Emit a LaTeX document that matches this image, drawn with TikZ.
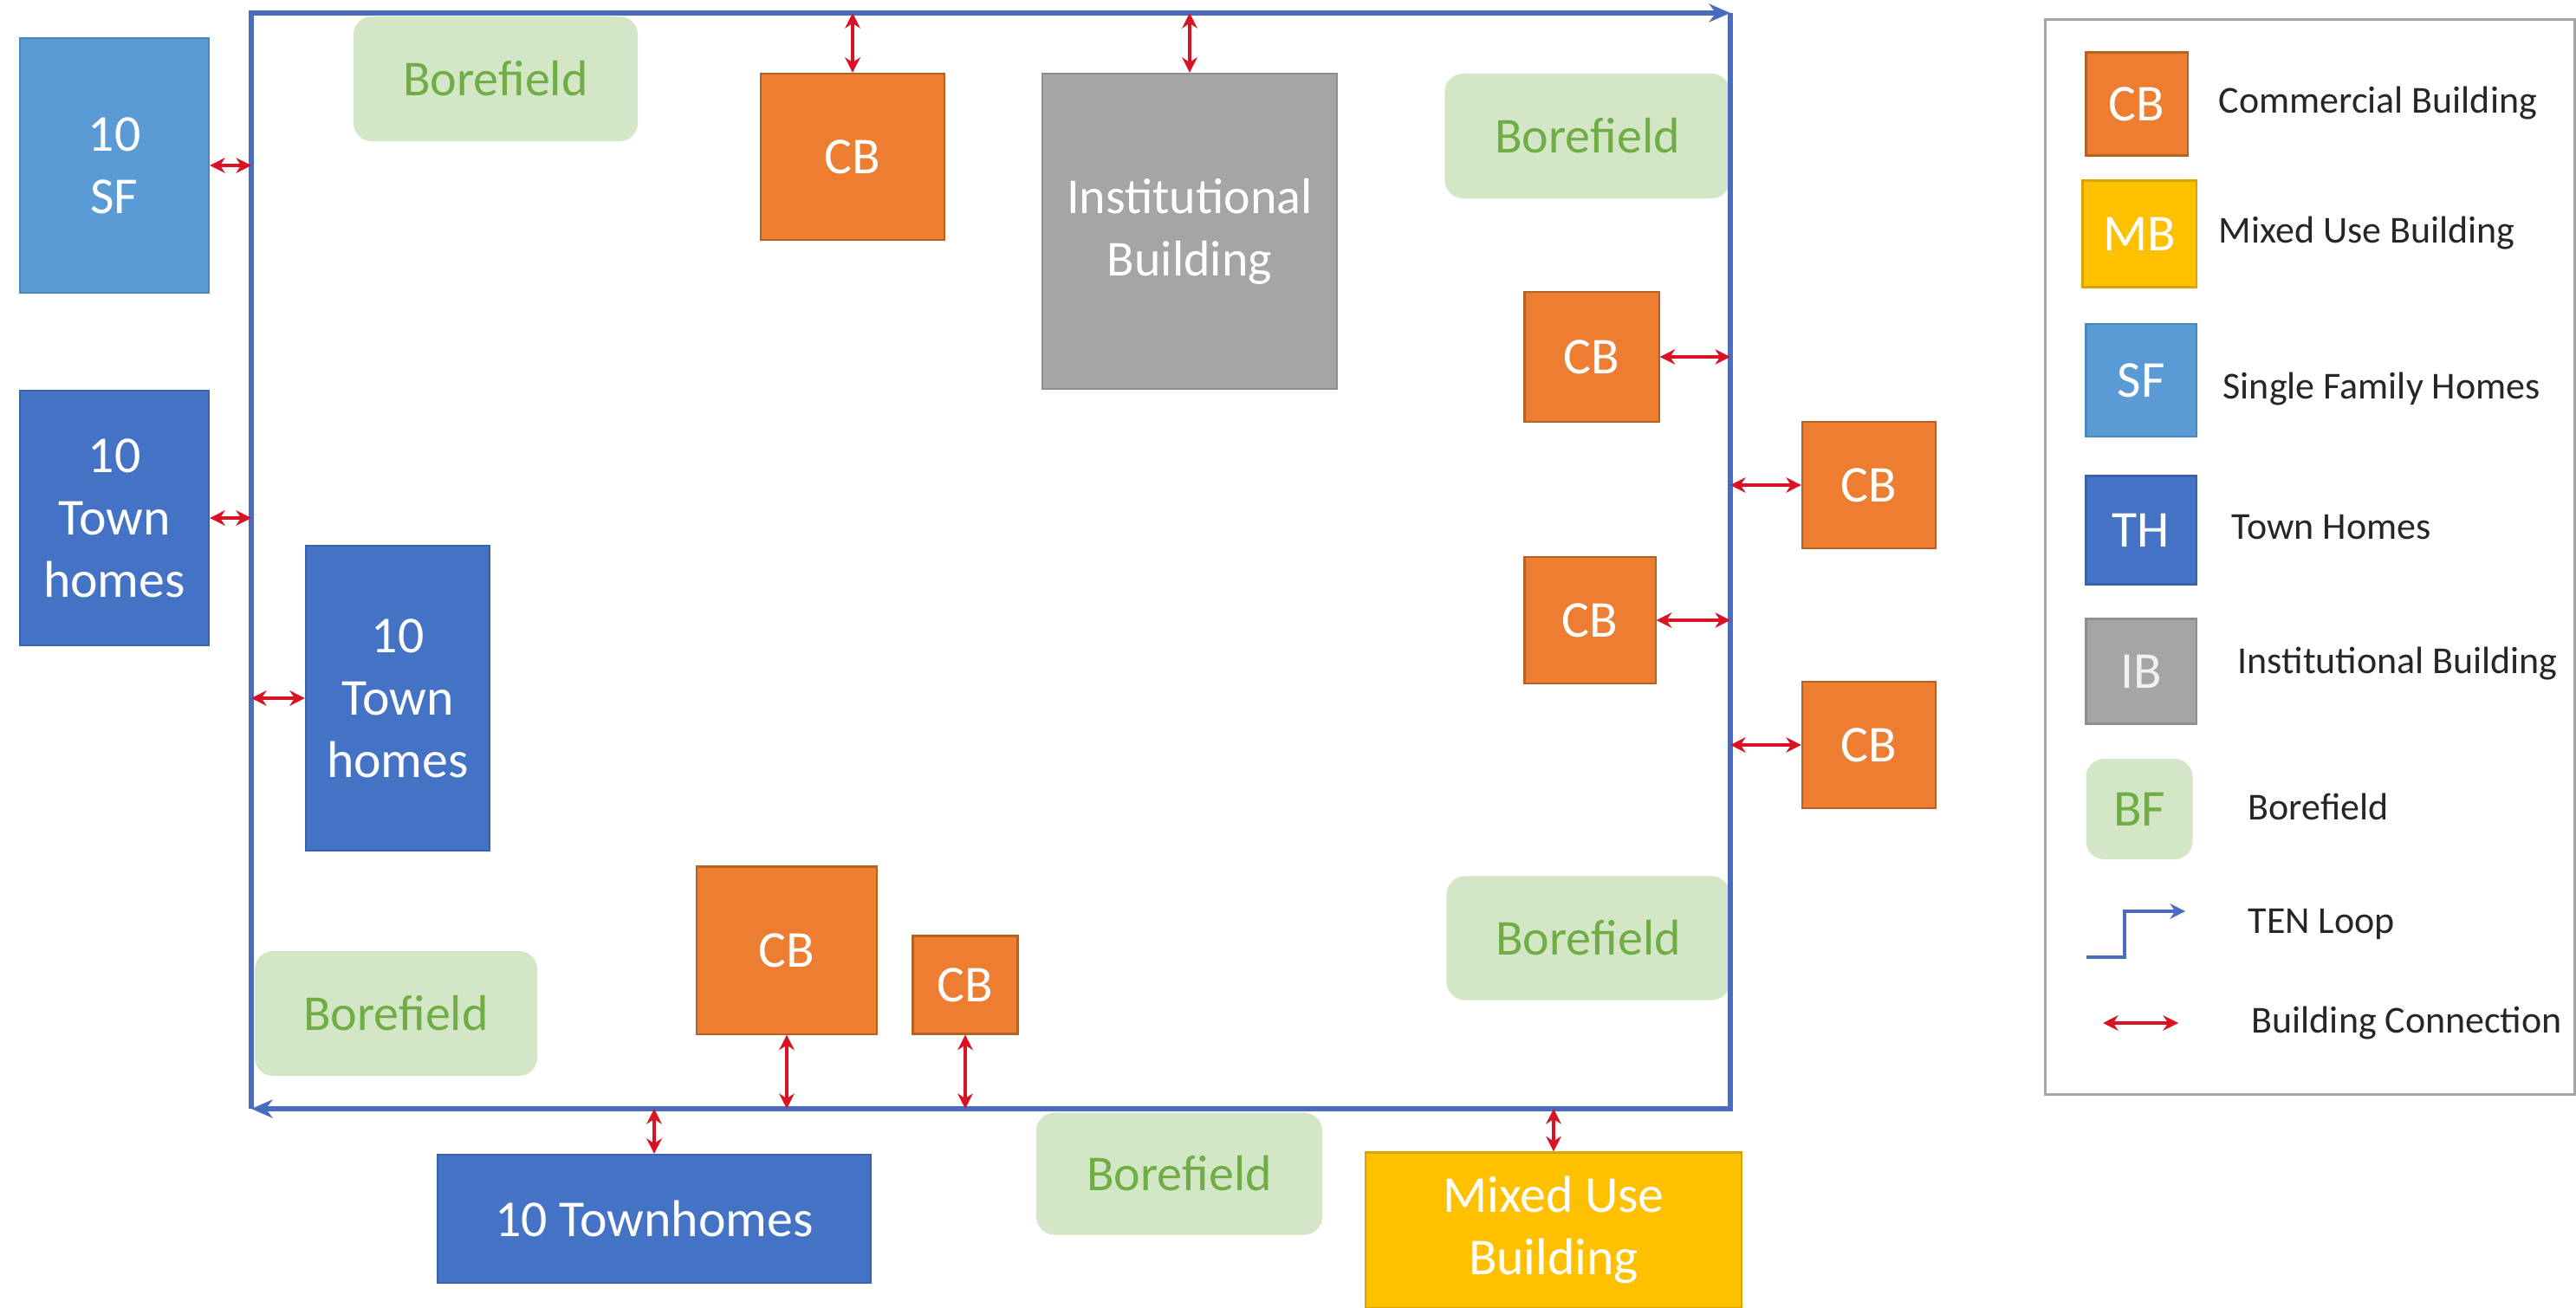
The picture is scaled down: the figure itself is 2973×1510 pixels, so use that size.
\documentclass[tikz,border=0pt]{standalone}
\usepackage{fontspec}
\setmainfont{Carlito}
\usetikzlibrary{arrows.meta}
\definecolor{cbfill}{HTML}{ED7D31}
\definecolor{cbdark}{HTML}{B85F22}
\definecolor{mbfill}{HTML}{FFC000}
\definecolor{mbdark}{HTML}{D9A300}
\definecolor{sffill}{HTML}{5B9BD5}
\definecolor{sfdark}{HTML}{4A86C0}
\definecolor{thfill}{HTML}{4472C4}
\definecolor{thdark}{HTML}{3A62AA}
\definecolor{ibfill}{HTML}{A5A5A5}
\definecolor{ibdark}{HTML}{8E8E8E}
\definecolor{bffill}{HTML}{D3E7C6}
\definecolor{bftext}{HTML}{70AD47}
\definecolor{loopblue}{HTML}{4A6CBE}
\definecolor{conred}{HTML}{D81424}
\definecolor{legtext}{HTML}{262626}
\definecolor{legframe}{HTML}{A6A6A6}
\begin{document}
\begin{tikzpicture}[x=0.01cm,y=-0.01cm,
  bld/.style={rectangle, inner sep=2pt, align=center, text=white, line width=0.6pt,
    font=\fontsize{17}{20.5}\selectfont},
  cbbox/.style={bld, fill=cbfill, draw=cbdark},
  mbbox/.style={bld, fill=mbfill, draw=mbdark},
  sfbox/.style={bld, fill=sffill, draw=sfdark},
  thbox/.style={bld, fill=thfill, draw=thdark},
  ibbox/.style={bld, fill=ibfill, draw=ibdark},
  bfbox/.style={rectangle, rounded corners=6pt, fill=bffill, text=bftext, inner sep=2pt,
    font=\fontsize{16.5}{20}\selectfont},
  conn/.style={draw=conred, line width=1.2pt,
    {Stealth[length=5pt,width=5pt]}-{Stealth[length=5pt,width=5pt]}},
  tenloop/.style={draw=loopblue, line width=1.5pt, line join=miter,
    -{Stealth[length=7pt,width=6pt]}},
  leg/.style={anchor=west, text=legtext, inner sep=0pt, font=\fontsize{12.5}{15}\selectfont}
]
\useasboundingbox (0,0) rectangle (2973,1510);
\fill[white] (0,0) rectangle (2973,1510);

% loop corners
\coordinate (LTL) at (290,15);
\coordinate (LTR) at (1997,15);
\coordinate (LBR) at (1997,1280);
\coordinate (LBL) at (290,1280);

% boxes
\node[sfbox, minimum width=2.18cm, minimum height=2.94cm] (sf) at (132,191) {10\\SF};
\node[thbox, minimum width=2.18cm, minimum height=2.94cm] (thl) at (132,598) {10\\Town\\homes};
\node[thbox, minimum width=2.12cm, minimum height=3.51cm] (thi) at (459,806) {10\\Town\\homes};
\node[bfbox, minimum width=3.28cm, minimum height=1.44cm] (bf1) at (572,91) {Borefield};
\node[cbbox, minimum width=2.12cm, minimum height=1.92cm] (cb1) at (984,181) {CB};
\node[ibbox, minimum width=3.39cm, minimum height=3.64cm, font=\fontsize{16.5}{20.5}\selectfont] (ib) at (1373,267) {Institutional\\Building};
\node[bfbox, minimum width=3.29cm, minimum height=1.44cm] (bf2) at (1832,157) {Borefield};
\node[cbbox, minimum width=1.55cm, minimum height=1.50cm] (cb2) at (1837,412) {CB};
\node[cbbox, minimum width=1.54cm, minimum height=1.46cm] (cb3) at (2157,560) {CB};
\node[cbbox, minimum width=1.51cm, minimum height=1.46cm] (cb4) at (1835,716) {CB};
\node[cbbox, minimum width=1.54cm, minimum height=1.46cm] (cb5) at (2157,860) {CB};
\node[bfbox, minimum width=3.27cm, minimum height=1.43cm] (bf3) at (1833,1083) {Borefield};
\node[bfbox, minimum width=3.26cm, minimum height=1.44cm] (bf4) at (457,1170) {Borefield};
\node[cbbox, minimum width=2.08cm, minimum height=1.93cm] (cb6) at (908,1097) {CB};
\node[cbbox, minimum width=1.21cm, minimum height=1.13cm] (cb7) at (1114,1137) {CB};
\node[thbox, minimum width=4.99cm, minimum height=1.48cm] (thb) at (755,1407) {10 Townhomes};
\node[bfbox, minimum width=3.30cm, minimum height=1.41cm] (bf5) at (1361,1355) {Borefield};
\node[mbbox, minimum width=4.33cm, minimum height=1.79cm] (mb) at (1793,1420) {Mixed Use\\Building};

% TEN loop
\draw[tenloop] (LBL) -- (LTL) -- (LTR);
\draw[tenloop] (LTR) -- (LBR) -- (LBL);

% building connections
\draw[conn] (sf.east) -- (sf.east -| LTL);
\draw[conn] (thl.east) -- (thl.east -| LTL);
\draw[conn] (thi.west) -- (thi.west -| LTL);
\draw[conn] (cb1.north) -- (cb1.north |- LTL);
\draw[conn] (ib.north) -- (ib.north |- LTL);
\draw[conn] (cb2.east) -- (cb2.east -| LTR);
\draw[conn] (cb3.west) -- (cb3.west -| LTR);
\draw[conn] (cb4.east) -- (cb4.east -| LTR);
\draw[conn] (cb5.west) -- (cb5.west -| LTR);
\draw[conn] (cb6.south) -- (cb6.south |- LBL);
\draw[conn] (cb7.south) -- (cb7.south |- LBL);
\draw[conn] (thb.north) -- (thb.north |- LBL);
\draw[conn] (mb.north) -- (mb.north |- LBL);

% legend
\node[draw=legframe, line width=0.8pt, minimum width=6.10cm, minimum height=12.40cm] (legend) at (2666,643) {};
\node[cbbox, minimum width=1.17cm, minimum height=1.19cm] (lcb) at (2466,120) {CB};
\node[mbbox, minimum width=1.31cm, minimum height=1.23cm] (lmb) at (2469,270) {MB};
\node[sfbox, minimum width=1.27cm, minimum height=1.30cm] (lsf) at (2471,439) {SF};
\node[thbox, minimum width=1.27cm, minimum height=1.25cm] (lth) at (2471,612) {TH};
\node[ibbox, minimum width=1.27cm, minimum height=1.21cm, text=white!85!ibfill] (lib) at (2471,775) {IB};
\node[bfbox, minimum width=1.23cm, minimum height=1.16cm, font=\fontsize{17}{20}\selectfont] (lbf) at (2469,934) {BF};
\coordinate (s1) at (2408,1105);
\coordinate (s2) at (2452,1105);
\coordinate (s3) at (2452,1052);
\coordinate (s4) at (2522,1052);
\draw[tenloop, line width=1.2pt, -{Stealth[length=5pt,width=5pt]}] (s1) -- (s2) -- (s3) -- (s4);
\coordinate (c1) at (2427,1181);
\coordinate (c2) at (2514,1181);
\draw[conn] (c1) -- (c2);

\node[leg] (t1) at (2560,119) {Commercial Building};
\node[leg] (t2) at (2560,269) {Mixed Use Building};
\node[leg] (t3) at (2565,449) {Single Family Homes};
\node[leg] (t4) at (2575,609) {Town Homes};
\node[leg] (t5) at (2582,766) {Institutional Building};
\node[leg] (t6) at (2594,931) {Borefield};
\node[leg] (t7) at (2594,1067) {TEN Loop};
\node[leg] (t8) at (2598,1181) {Building Connection};
\end{tikzpicture}
\end{document}
